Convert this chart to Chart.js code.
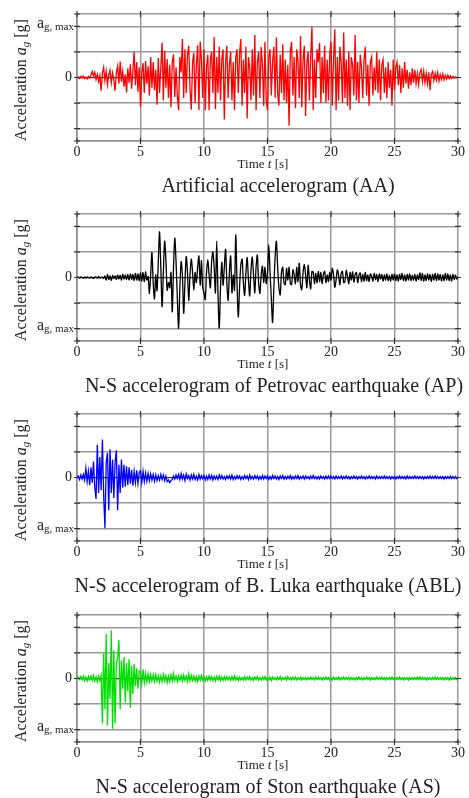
<!DOCTYPE html>
<html>
  <head>
    <meta charset="UTF-8" />
    <script src="https://cdn.jsdelivr.net/npm/chart.js"></script>
    <style>
      body { margin: 0; background: #fff; }
      .panel { position: absolute; left: 0; width: 469px; }
    </style>
  </head>
  <body>
    <div class="panel" style="top: 0px"><canvas id="chartAA" width="469" height="200"></canvas></div>
    <div class="panel" style="top: 200px"><canvas id="chartAP" width="469" height="200"></canvas></div>
    <div class="panel" style="top: 400px"><canvas id="chartABL" width="469" height="200"></canvas></div>
    <div class="panel" style="top: 601px"><canvas id="chartAS" width="469" height="197"></canvas></div>
    <script>
      // time step of the sampled records, s
      const timeStep = 0.1;
      const xTicks = [0, 5, 10, 15, 20, 25, 30];
      const yGrid = [-1, -0.5, 0, 0.5, 1];
      const yLimit = 1.24;

      // accelerations normalised to a_g,max
      const accAA = [
        0, 0.01, -0.02, 0.02, -0.01, 0.03, -0.02, 0.01, -0.03, 0.02,
        -0.01, 0.05, 0.12, 0.03, 0.10, -0.04, 0.06, -0.08, 0.04, -0.26,
        0.08, 0.20, -0.06, 0.12, -0.14, 0.05, 0.14, -0.10, 0.09, -0.05,
        -0.26, 0.10, 0.22, -0.12, 0.31, -0.08, 0.12, -0.18, 0.06, -0.29,
        0.18, -0.10, 0.26, -0.22, 0.12, 0.50, -0.15, 0.30, -0.28, 0.20,
        -0.57, 0.10, 0.28, -0.30, 0.32, -0.12, 0.22, -0.35, 0.40, -0.20,
        0.30, -0.25, 0.15, -0.53, 0.38, -0.30, 0.20, 0.68, -0.45, 0.52,
        -0.20, 0.36, -0.40, 0.25, -0.58, 0.30, 0.45, -0.38, 0.20, -0.35,
        -0.64, 0.40, 0.10, 0.75, -0.40, 0.55, -0.30, 0.45, 0.62, -0.25,
        -0.63, 0.30, 0.48, -0.50, 0.25, 0.63, -0.64, 0.70, 0.35, -0.40,
        0.55, -0.64, 0.20, 0.45, -0.64, 0.35, 0.50, -0.30, 0.79, -0.62,
        0.40, -0.30, 0.60, -0.45, 0.35, 0.55, -0.82, 0.30, 0.62, -0.40,
        0.25, 0.50, -0.45, 0.30, -0.64, 0.40, 0.55, -0.30, 0.45, 0.75,
        -0.55, 0.35, -0.30, 0.60, -0.80, 0.40, 0.20, -0.45, 0.55, -0.35,
        0.83, -0.64, 0.30, 0.50, -0.40, 0.60, 0.25, -0.55, 0.70, -0.45,
        -0.64, 0.40, 0.55, -0.35, 0.30, 0.60, -0.40, 0.78, -0.30, -0.55,
        0.45, -0.30, 0.65, -0.45, 0.35, -0.50, 0.25, -0.94, 0.50, 0.70,
        -0.35, 0.40, -0.60, 0.55, 0.30, -0.40, 0.81, -0.58, 0.35, 0.62,
        -0.75, 0.30, 0.50, -0.45, 0.40, 0.99, -0.64, 0.35, -0.40, 0.55,
        0.30, 0.68, -0.50, 0.40, -0.30, 0.62, -0.50, 0.35, -0.45, 0.45,
        0.70, -0.55, 0.35, 0.94, -0.64, 0.40, -0.45, 0.60, 0.30, -0.50,
        0.88, -0.40, 0.35, -0.55, 0.50, -0.64, 0.40, 0.25, -0.35, 0.83,
        -0.45, 0.30, -0.50, 0.45, 0.20, -0.40, 0.35, 0.60, -0.35, 0.25,
        -0.55, 0.30, 0.40, -0.35, 0.20, -0.25, 0.50, -0.30, 0.35, -0.45,
        0.25, 0.35, -0.30, 0.20, -0.40, 0.30, -0.20, 0.15, -0.55, 0.35,
        -0.25, 0.20, 0.30, -0.15, 0.25, -0.30, 0.18, -0.20, 0.30, -0.12,
        0.15, -0.22, 0.10, -0.15, 0.18, -0.10, 0.15, -0.12, 0.08, -0.14,
        0.10, 0.16, -0.08, 0.12, -0.10, 0.08, -0.12, 0.10, -0.25, 0.06,
        0.12, -0.06, 0.08, -0.05, 0.10, -0.07, 0.06, -0.04, 0.07, -0.05,
        0.04, -0.03, 0.05, -0.02, 0.03, -0.02, 0.02, -0.01, 0.01, 0,
        0
      ];

      const accAP = [
        0, 0.01, -0.01, 0.01, 0, -0.01, 0.01, -0.01, 0.01, 0,
        -0.01, 0.01, 0, -0.02, 0.01, 0.01, -0.01, 0.02, -0.01, 0,
        0.01, -0.02, 0.03, -0.05, 0.06, -0.04, 0.03, -0.06, 0.04, -0.02,
        0.03, -0.04, 0.05, -0.03, 0.04, -0.05, 0.06, -0.03, 0.05, -0.04,
        0.06, -0.05, 0.07, -0.04, 0.06, -0.06, 0.08, -0.05, 0.07, -0.06,
        0.09, -0.07, 0.10, -0.08, 0.11, -0.05, 0.02, -0.31, 0.05, 0.49,
        -0.10, -0.42, 0.05, -0.26, 0.30, 0.89, 0.20, -0.57, 0.10, 0.71,
        0.35, -0.25, -0.10, -0.20, 0.10, -0.67, 0.20, 0.77, 0.30, -0.40,
        -0.99, -0.20, 0.31, 0.05, -0.70, -0.10, 0.41, 0.10, -0.45, 0.05,
        0.36, 0.10, -0.25, 0.10, -0.10, 0.20, 0.42, -0.15, 0.33, -0.20,
        -0.30, -0.43, 0.10, 0.34, 0.05, -0.20, 0.30, 0.50, 0.20, -0.30,
        0.71, -0.30, -0.99, -0.20, 0.30, -0.15, 0.20, 0.55, -0.10, -0.45,
        0.10, 0.42, -0.30, 0.05, -0.25, 0.83, -0.10, -0.77, -0.20, 0.25,
        0.36, -0.10, -0.35, 0.10, 0.39, -0.05, -0.36, 0.15, 0.40, 0.05,
        -0.30, 0.20, 0.44, -0.10, -0.31, 0.05, 0.22, -0.10, 0.20, -0.12,
        0.10, 0.64, 0.10, -0.40, -0.88, -0.20, 0.40, 0.71, 0.20, -0.20,
        -0.34, 0.10, 0.20, -0.10, -0.14, 0.18, -0.05, 0.20, -0.12, -0.14,
        0.15, 0.05, -0.12, 0.20, -0.08, 0.28, -0.15, -0.24, 0.10, 0.25,
        0.05, -0.20, 0.24, -0.05, -0.22, 0.12, 0.10, -0.12, 0.08, -0.10,
        0.12, -0.08, 0.10, -0.12, 0.06, 0.12, -0.10, 0.05, -0.08, 0.10,
        -0.05, 0.18, 0.06, -0.19, -0.05, 0.15, 0.04, -0.14, 0.08, 0.12,
        -0.10, -0.08, 0.14, 0.02, -0.12, 0.10, -0.05, 0.11, -0.09, 0.06,
        0.10, -0.10, 0.04, 0.09, -0.08, 0.06, -0.07, 0.10, -0.06, 0.05,
        -0.08, 0.07, 0.03, -0.07, 0.08, -0.04, 0.06, -0.08, 0.07, -0.03,
        0.06, -0.07, 0.05, -0.05, 0.07, -0.06, 0.04, -0.07, 0.06, -0.05,
        0.07, -0.06, 0.05, -0.07, 0.06, -0.04, 0.08, -0.06, 0.05, -0.07,
        0.06, -0.05, 0.07, -0.06, 0.04, -0.05, 0.06, -0.07, 0.05, -0.04,
        0.09, -0.06, 0.08, -0.07, 0.05, -0.06, 0.07, -0.05, 0.06, -0.08,
        0.06, -0.05, 0.08, -0.06, 0.07, -0.05, 0.06, -0.07, 0.05, -0.06,
        0.08, -0.05, 0.07, -0.06, 0.05, -0.07, 0.06, -0.04, 0.05, -0.03,
        0.02
      ];

      const accABL = [
        0, 0.03, -0.04, 0.05, -0.03, 0.06, -0.05, 0.18, -0.08, 0.12,
        -0.15, 0.20, -0.10, 0.31, -0.20, -0.42, 0.64, -0.30, 0.40, -0.25,
        0.74, -0.35, -0.99, 0.30, 0.48, -0.64, 0.55, -0.30, 0.35, -0.40,
        0.30, 0.53, -0.64, 0.25, -0.30, 0.35, -0.20, 0.25, -0.18, 0.22,
        -0.15, 0.20, -0.12, 0.15, -0.16, 0.12, -0.10, 0.14, -0.12, 0.10,
        0.13, -0.10, 0.12, -0.08, 0.09, -0.07, 0.08, -0.06, 0.07, -0.05,
        0.06, -0.07, 0.05, -0.06, 0.04, -0.05, 0.06, -0.04, 0.05, -0.06,
        0.03, -0.08, -0.05, -0.10, -0.06, -0.04, 0.03, -0.03, 0.05, -0.02,
        0.06, -0.04, 0.08, -0.03, 0.05, -0.06, 0.07, -0.02, 0.04, -0.05,
        0.05, -0.03, 0.06, -0.04, 0.03, -0.05, 0.06, -0.03, 0.04, -0.02,
        0.04, -0.05, 0.03, -0.04, 0.05, -0.03, 0.04, -0.05, 0.03, -0.03,
        0.03, -0.04, 0.05, -0.02, 0.04, -0.03, 0.02, -0.04, 0.03, -0.02,
        0.04, -0.03, 0.05, -0.04, 0.02, -0.03, 0.04, -0.02, 0.03, -0.04,
        0.02, -0.03, 0.04, -0.02, 0.03, -0.04, 0.05, -0.03, 0.02, -0.03,
        0.04, -0.02, 0.03, -0.04, 0.02, -0.03, 0.04, -0.03, 0.03, -0.02,
        0.03, -0.04, 0.02, -0.03, 0.04, -0.02, 0.03, -0.03, 0.02, -0.04,
        0.03, -0.02, 0.04, -0.03, 0.02, -0.03, 0.03, -0.02, 0.04, -0.03,
        0.02, -0.03, 0.03, -0.02, 0.04, -0.03, 0.02, -0.02, 0.03, -0.03,
        0.03, -0.02, 0.02, -0.03, 0.03, -0.02, 0.04, -0.02, 0.02, -0.03,
        0.02, -0.03, 0.03, -0.02, 0.02, -0.03, 0.03, -0.02, 0.03, -0.02,
        0.03, -0.02, 0.02, -0.03, 0.03, -0.02, 0.02, -0.02, 0.03, -0.03,
        0.02, -0.02, 0.03, -0.02, 0.02, -0.03, 0.02, -0.02, 0.03, -0.02,
        0.02, -0.03, 0.02, -0.02, 0.03, -0.02, 0.02, -0.03, 0.02, -0.02,
        0.03, -0.02, 0.02, -0.02, 0.02, -0.03, 0.03, -0.02, 0.02, -0.02,
        0.02, -0.02, 0.03, -0.02, 0.02, -0.02, 0.02, -0.03, 0.02, -0.02,
        0.02, -0.03, 0.02, -0.02, 0.03, -0.02, 0.02, -0.02, 0.02, -0.03,
        0.03, -0.02, 0.02, -0.02, 0.02, -0.02, 0.03, -0.02, 0.02, -0.02,
        0.02, -0.02, 0.02, -0.03, 0.02, -0.02, 0.02, -0.02, 0.03, -0.02,
        0.02, -0.02, 0.03, -0.02, 0.02, -0.02, 0.02, -0.02, 0.02, -0.03,
        0.02, -0.02, 0.02, -0.02, 0.03, -0.02, 0.02, -0.02, 0.02, -0.02,
        0.01
      ];

      const accAS = [
        0, 0.03, -0.02, 0.04, -0.03, 0.05, -0.04, 0.03, -0.05, 0.04,
        -0.03, 0.05, -0.04, 0.06, -0.05, 0.04, -0.06, 0.05, -0.04, 0.06,
        -0.88, 0.49, -0.60, 0.87, -0.92, 0.30, -0.40, 0.94, -0.98, 0.55,
        -0.88, 0.30, 0.40, 0.75, -0.60, 0.35, -0.20, 0.42, -0.47, 0.30,
        -0.25, 0.38, -0.57, 0.25, -0.30, 0.28, -0.15, 0.20, -0.20, 0.15,
        0.12, -0.10, 0.18, -0.08, 0.10, -0.07, 0.09, -0.06, 0.08, -0.05,
        0.07, -0.06, 0.08, -0.05, 0.06, -0.07, 0.05, -0.06, 0.08, -0.05,
        0.06, -0.08, 0.05, -0.06, 0.07, -0.05, 0.10, -0.04, 0.05, -0.06,
        0.05, -0.04, 0.06, -0.05, 0.07, -0.04, 0.05, -0.06, 0.09, -0.05,
        0.06, -0.04, 0.05, -0.05, 0.04, -0.06, 0.05, -0.04, 0.06, -0.03,
        0.04, -0.05, 0.03, -0.04, 0.05, -0.03, 0.04, -0.04, 0.03, -0.05,
        0.04, -0.03, 0.05, -0.04, 0.03, -0.04, 0.04, -0.03, 0.04, -0.03,
        0.03, -0.04, 0.04, -0.03, 0.05, -0.03, 0.03, -0.04, 0.03, -0.03,
        0.02, -0.03, 0.04, -0.03, 0.03, -0.02, 0.04, -0.03, 0.02, -0.04,
        0.03, -0.02, 0.04, -0.03, 0.02, -0.03, 0.03, -0.02, 0.04, -0.03,
        0.02, -0.03, 0.03, -0.04, 0.03, -0.02, 0.02, -0.03, 0.03, -0.02,
        0.04, -0.03, 0.02, -0.02, 0.03, -0.03, 0.04, -0.02, 0.02, -0.03,
        0.03, -0.02, 0.03, -0.03, 0.02, -0.02, 0.03, -0.03, 0.02, -0.02,
        0.02, -0.03, 0.02, -0.02, 0.03, -0.02, 0.02, -0.03, 0.03, -0.02,
        0.03, -0.02, 0.02, -0.03, 0.02, -0.02, 0.03, -0.02, 0.02, -0.03,
        0.02, -0.03, 0.03, -0.02, 0.02, -0.02, 0.03, -0.03, 0.02, -0.02,
        0.03, -0.02, 0.02, -0.02, 0.03, -0.03, 0.02, -0.02, 0.02, -0.03,
        0.02, -0.02, 0.03, -0.02, 0.02, -0.03, 0.02, -0.02, 0.03, -0.02,
        0.02, -0.03, 0.02, -0.02, 0.02, -0.02, 0.03, -0.02, 0.02, -0.02,
        0.03, -0.02, 0.02, -0.03, 0.02, -0.02, 0.02, -0.02, 0.03, -0.02,
        0.02, -0.02, 0.02, -0.02, 0.03, -0.02, 0.02, -0.03, 0.02, -0.02,
        0.02, -0.03, 0.02, -0.02, 0.02, -0.02, 0.02, -0.02, 0.03, -0.02,
        0.03, -0.02, 0.02, -0.02, 0.02, -0.03, 0.02, -0.02, 0.02, -0.02,
        0.02, -0.02, 0.03, -0.02, 0.02, -0.02, 0.02, -0.02, 0.02, -0.03,
        0.02, -0.02, 0.02, -0.03, 0.02, -0.02, 0.02, -0.02, 0.02, -0.02,
        0.01
      ];

      const serif = '"Liberation Serif", "Times New Roman", serif';

      // draws a row of text pieces (mixed size/italic/offset) starting at x, baseline y
      const drawParts = (ctx, parts, x, y, align) => {
        const widths = parts.map((p) => {
          ctx.font = (p.italic ? "italic " : "") + p.size + "px " + serif;
          return ctx.measureText(p.text).width;
        });
        const total = widths.reduce((a, b) => a + b, 0);
        let cx = align === "right" ? x - total : align === "center" ? x - total / 2 : x;
        ctx.textAlign = "left";
        ctx.textBaseline = "alphabetic";
        parts.forEach((p, i) => {
          ctx.font = (p.italic ? "italic " : "") + p.size + "px " + serif;
          ctx.fillText(p.text, cx, y + (p.dy || 0));
          cx += widths[i];
        });
      };

      const decorations = {
        id: "decorations",
        afterDraw(chart, args, opts) {
          const { ctx, chartArea: a, scales } = chart;
          const x = scales.x;
          const y = scales.y;
          ctx.save();

          // small crossing ticks on all four sides of the frame
          ctx.strokeStyle = "#333";
          ctx.lineWidth = 1.2;
          ctx.beginPath();
          y.ticks.forEach((t) => {
            const py = y.getPixelForValue(t.value);
            ctx.moveTo(a.left - 3, py);
            ctx.lineTo(a.left + 3, py);
            ctx.moveTo(a.right - 3, py);
            ctx.lineTo(a.right + 3, py);
          });
          x.ticks.forEach((t) => {
            const px = x.getPixelForValue(t.value);
            ctx.moveTo(px, a.top - 3);
            ctx.lineTo(px, a.top + 3);
            ctx.moveTo(px, a.bottom - 3);
            ctx.lineTo(px, a.bottom + 3);
          });
          ctx.stroke();

          ctx.fillStyle = "#222";

          // a_g,max label at the peak gridline
          const py = y.getPixelForValue(opts.amaxAt);
          drawParts(ctx, [
            { text: "a", size: 16 },
            { text: "g, max", size: 11, dy: 2 },
          ], a.left - 3, py + 1.5, "right");

          // rotated y title
          ctx.save();
          ctx.translate(26, 80);
          ctx.rotate(-Math.PI / 2);
          drawParts(ctx, [
            { text: "Acceleration ", size: 16 },
            { text: "a", size: 16, italic: true },
            { text: "g", size: 11, italic: true, dy: 3 },
            { text: " [g]", size: 16 },
          ], 0, 0, "center");
          ctx.restore();

          // x title
          drawParts(ctx, [
            { text: "Time ", size: 13 },
            { text: "t", size: 13, italic: true },
            { text: " [s]", size: 13 },
          ], 263, 168, "center");

          // caption
          drawParts(ctx, [{ text: opts.title, size: 20 }], opts.titleX, 192, "center");
          ctx.restore();
        },
      };

      const makeChart = (id, values, color, tension, amaxAt, title, titleX) => {
        const points = values.map((v, i) => ({ x: i * timeStep, y: v }));
        return new Chart(document.getElementById(id), {
          type: "line",
          data: {
            datasets: [
              {
                data: points,
                borderColor: color,
                borderWidth: 1.3,
                pointRadius: 0,
                tension: tension,
                fill: false,
              },
            ],
          },
          options: {
            responsive: false,
            animation: false,
            events: [],
            layout: { padding: { top: 14, right: 11, left: 0, bottom: 0 } },
            plugins: {
              legend: { display: false },
              tooltip: { enabled: false },
              decorations: { amaxAt: amaxAt, title: title, titleX: titleX },
            },
            scales: {
              x: {
                type: "linear",
                min: 0,
                max: 30,
                afterBuildTicks: (s) => {
                  s.ticks = xTicks.map((v) => ({ value: v }));
                },
                afterFit: (s) => {
                  s.height = s.chart.height - 141;
                },
                grid: { color: "#9a9a9a", lineWidth: 1.5, drawTicks: false },
                border: { color: "#8a8a8a", width: 1.5 },
                ticks: {
                  padding: 3,
                  maxRotation: 0,
                  color: "#222",
                  font: { family: serif, size: 14 },
                  callback: (v) => String(v),
                },
              },
              y: {
                min: -yLimit,
                max: yLimit,
                afterBuildTicks: (s) => {
                  s.ticks = [-yLimit, ...yGrid, yLimit].map((v) => ({ value: v }));
                },
                afterFit: (s) => {
                  s.width = 77;
                },
                grid: {
                  color: (c) => (c.tick && c.tick.value === 0 ? "#333" : "#9a9a9a"),
                  lineWidth: (c) => (c.tick && c.tick.value === 0 ? 1.2 : 1.5),
                  drawTicks: false,
                },
                border: { color: "#8a8a8a", width: 1.5 },
                ticks: {
                  padding: 5,
                  color: "#222",
                  font: { family: serif, size: 14 },
                  callback: (v) => (v === 0 ? "0" : ""),
                },
              },
            },
          },
          plugins: [decorations],
        });
      };

      makeChart("chartAA", accAA, "#ff0000", 0, 1, "Artificial accelerogram (AA)", 278);
      makeChart("chartAP", accAP, "#000000", 0.3, -1, "N-S accelerogram of Petrovac earthquake (AP)", 274);
      makeChart("chartABL", accABL, "#0000ff", 0, -1, "N-S accelerogram of B. Luka earthquake (ABL)", 268);
      makeChart("chartAS", accAS, "#00e000", 0, -1, "N-S accelerogram of Ston earthquake (AS)", 268);
    </script>
  </body>
</html>
